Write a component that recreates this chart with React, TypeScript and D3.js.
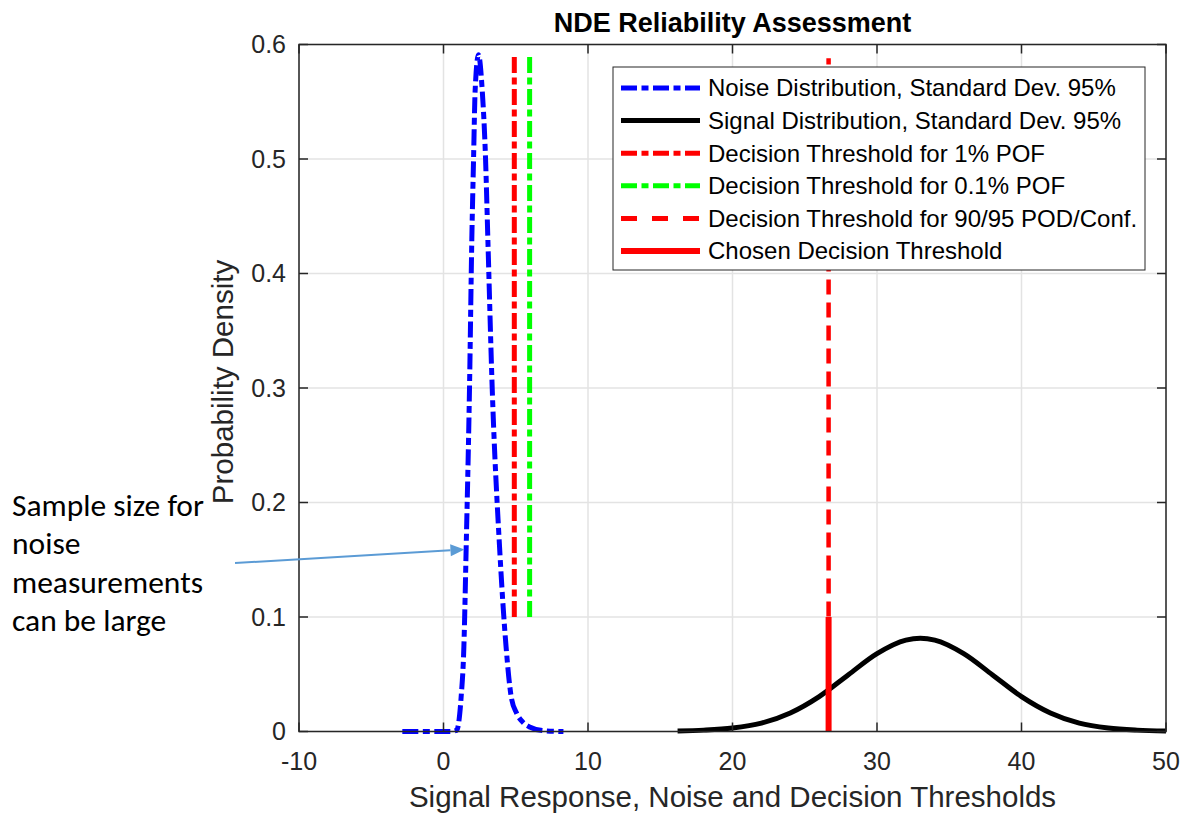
import React from "react";
import * as d3 from "d3";

const width = 1186;
const height = 813;
const margin = { top: 44.5, right: 20, bottom: 81.5, left: 299 };

// noise distribution (x, density)
const noiseX = [-2.85, 0.5, 0.9, 1.0, 1.22, 1.41, 1.57, 1.8, 1.96, 2.08, 2.19, 2.42, 2.68, 2.91, 3.07, 3.37, 3.88, 4.33, 4.69, 5.06, 5.5, 5.96, 7.0, 8.3];
const noiseY = [0, 0, 0.001, 0.004, 0.03, 0.074, 0.161, 0.3, 0.43, 0.5, 0.56, 0.591, 0.56, 0.5, 0.43, 0.3, 0.161, 0.074, 0.03, 0.016, 0.008, 0.004, 0.0006, 0];

// signal distribution
const signalX = [16.2, 18, 20, 22, 24, 26, 28, 30, 32, 33, 34, 36, 38, 40, 42, 44, 46, 48, 50];
const signalY = [0.0005, 0.0012, 0.003, 0.0073, 0.0162, 0.0305, 0.0494, 0.068, 0.0798, 0.0814, 0.0798, 0.068, 0.0494, 0.0305, 0.0162, 0.0073, 0.003, 0.0012, 0.0005];

// thresholds
const pofX = 4.9;
const pof01X = 5.96;
const podX = 26.65;
const chosenX = 26.65;
const pofRange = [0.1, 0.592];
const podRange = [0, 0.588];
const chosenRange = [0, 0.1];

const xTicks = [-10, 0, 10, 20, 30, 40, 50];
const yTicks = [0, 0.1, 0.2, 0.3, 0.4, 0.5, 0.6];

const legendLabels = [
  "Noise Distribution, Standard Dev. 95%",
  "Signal Distribution, Standard Dev. 95%",
  "Decision Threshold for 1% POF",
  "Decision Threshold for 0.1% POF",
  "Decision Threshold for 90/95 POD/Conf.",
  "Chosen Decision Threshold",
];
const legendStyles = [
  { color: "#0000ff", dash: "16,4.5,7,4.5", w: 5 },
  { color: "#000000", dash: "none", w: 5 },
  { color: "#ff0000", dash: "16,4.5,7,4.5", w: 5 },
  { color: "#00ff00", dash: "16,4.5,7,4.5", w: 5 },
  { color: "#ff0000", dash: "16,15", w: 5 },
  { color: "#ff0000", dash: "none", w: 6 },
];

const noteLines = ["Sample size for", "noise", "measurements", "can be large"];

const axisColor = "#262626";
const gridColor = "#e3e3e3";
const font = "'Liberation Sans', Arial, sans-serif";

const App = () => {
  const x = d3.scaleLinear().domain([-10, 50]).range([margin.left, width - margin.right]);
  const y = d3.scaleLinear().domain([0, 0.6]).range([height - margin.bottom, margin.top]);

  const line = d3
    .line<[number, number]>()
    .x((d) => x(d[0]))
    .y((d) => y(d[1]))
    .curve(d3.curveMonotoneX);

  const noise = line(noiseX.map((v, i) => [v, noiseY[i]])) || "";
  const signal = line(signalX.map((v, i) => [v, signalY[i]])) || "";

  const x0 = x(-10);
  const x1 = x(50);
  const y0 = y(0);
  const y1 = y(0.6);
  const tl = 9;

  // arrow: tip sits on the noise curve
  const tipX = x(1.45);
  const tipY = y(0.159);
  const startX = 235;
  const startY = 563;
  const ang = Math.atan2(tipY - startY, tipX - startX);
  const ah = 14;
  const aw = 6;
  const bx = tipX - ah * Math.cos(ang);
  const by = tipY - ah * Math.sin(ang);
  const head = [
    [tipX, tipY],
    [bx + aw * Math.sin(ang), by - aw * Math.cos(ang)],
    [bx - aw * Math.sin(ang), by + aw * Math.cos(ang)],
  ];

  const legX = 613;
  const legY = 67;
  const legW = 532;
  const legH = 203;
  const rowH = 32.6;

  return (
    <svg width={width} height={height} style={{ position: "absolute", left: 0, top: 0 }}>
      <rect width={width} height={height} fill="#fff" />
      {/* grid */}
      {xTicks.map((t) => (
        <line key={`gx${t}`} x1={x(t)} x2={x(t)} y1={y0} y2={y1} stroke={gridColor} strokeWidth={1.5} />
      ))}
      {yTicks.map((t) => (
        <line key={`gy${t}`} x1={x0} x2={x1} y1={y(t)} y2={y(t)} stroke={gridColor} strokeWidth={1.5} />
      ))}

      {/* curves */}
      <path d={signal} fill="none" stroke="#000" strokeWidth={5} />
      <path d={noise} fill="none" stroke="#0000ff" strokeWidth={5} strokeDasharray="16,4.5,7,4.5" />

      {/* thresholds */}
      <line x1={x(pofX)} x2={x(pofX)} y1={y(pofRange[0])} y2={y(pofRange[1])} stroke="#ff0000" strokeWidth={5} strokeDasharray="16,4.5,7,4.5" />
      <line x1={x(pof01X)} x2={x(pof01X)} y1={y(pofRange[0])} y2={y(pofRange[1])} stroke="#00ff00" strokeWidth={5} strokeDasharray="16,4.5,7,4.5" />
      <line x1={x(podX)} x2={x(podX)} y1={y(podRange[0])} y2={y(podRange[1])} stroke="#ff0000" strokeWidth={4.5} strokeDasharray="15,8" />
      <line x1={x(chosenX)} x2={x(chosenX)} y1={y(chosenRange[0])} y2={y(chosenRange[1])} stroke="#ff0000" strokeWidth={6} />

      {/* axes box */}
      <rect x={x0} y={y1} width={x1 - x0} height={y0 - y1} fill="none" stroke={axisColor} strokeWidth={1.5} />
      {xTicks.map((t) => (
        <g key={`tx${t}`}>
          <line x1={x(t)} x2={x(t)} y1={y0} y2={y0 - tl} stroke={axisColor} strokeWidth={1.5} />
          <line x1={x(t)} x2={x(t)} y1={y1} y2={y1 + tl} stroke={axisColor} strokeWidth={1.5} />
          <text x={x(t)} y={y0 + 38} textAnchor="middle" fontFamily={font} fontSize={25} fill={axisColor}>
            {t}
          </text>
        </g>
      ))}
      {yTicks.map((t) => (
        <g key={`ty${t}`}>
          <line x1={x0} x2={x0 + tl} y1={y(t)} y2={y(t)} stroke={axisColor} strokeWidth={1.5} />
          <line x1={x1} x2={x1 - tl} y1={y(t)} y2={y(t)} stroke={axisColor} strokeWidth={1.5} />
          <text x={x0 - 13} y={y(t)} dy="0.35em" textAnchor="end" fontFamily={font} fontSize={25} fill={axisColor}>
            {t}
          </text>
        </g>
      ))}

      {/* labels */}
      <text x={(x0 + x1) / 2} y={32} textAnchor="middle" fontFamily={font} fontSize={27} fontWeight="bold" fill="#000">
        NDE Reliability Assessment
      </text>
      <text x={(x0 + x1) / 2} y={807} textAnchor="middle" fontFamily={font} fontSize={29.5} fill={axisColor}>
        Signal Response, Noise and Decision Thresholds
      </text>
      <text
        transform={`translate(233,382) rotate(-90)`}
        textAnchor="middle"
        fontFamily={font}
        fontSize={29.5}
        fill={axisColor}
      >
        Probability Density
      </text>

      {/* legend */}
      <rect x={legX} y={legY} width={legW} height={legH} fill="#fff" stroke={axisColor} strokeWidth={1} />
      {legendLabels.map((lab, i) => {
        const cy = legY + 21 + i * rowH;
        const s = legendStyles[i];
        return (
          <g key={lab}>
            <line x1={621} x2={700} y1={cy} y2={cy} stroke={s.color} strokeWidth={s.w} strokeDasharray={s.dash} />
            <text x={708} y={cy} dy="0.35em" fontFamily={font} fontSize={24} fill="#000">
              {lab}
            </text>
          </g>
        );
      })}

      {/* annotation */}
      <line x1={startX} y1={startY} x2={bx} y2={by} stroke="#5b9bd5" strokeWidth={2} />
      <polygon points={head.map((p) => p.join(",")).join(" ")} fill="#5b9bd5" />
      {noteLines.map((s, i) => (
        <text key={s} x={12} y={505 + i * 38.3} dy="0.35em" fontFamily="Carlito, Lato, sans-serif" fontSize={31.5} fill="#000">
          {s}
        </text>
      ))}
    </svg>
  );
};

export default App;
